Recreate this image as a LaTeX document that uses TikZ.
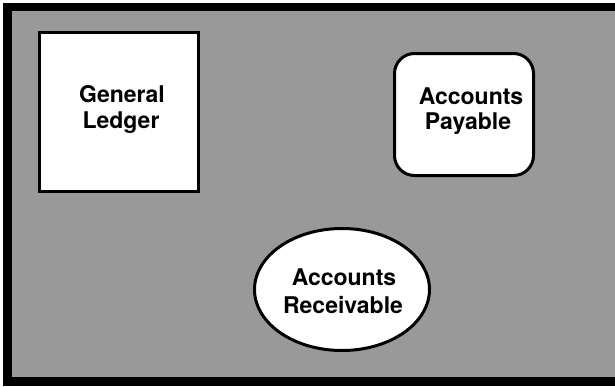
\documentclass[tikz,border=0pt]{standalone}
\usepackage{fontspec}
\setmainfont{TeX Gyre Heros}
\usetikzlibrary{shapes.geometric}
\definecolor{dither}{gray}{0.6}
\tikzset{
  shapebox/.style={draw=black, line width=3pt, fill=white, inner sep=0pt},
  lbl/.style={anchor=base, inner sep=0pt, font=\bfseries\fontsize{23}{26}\selectfont}
}
\begin{document}
\begin{tikzpicture}[x=1pt,y=-1pt]
\useasboundingbox (0,0) rectangle (615,386);
\fill[white] (0,0) rectangle (615,386);
\fill[dither] (12,11) rectangle (615,377);
\fill[black] (3,3) rectangle (615,11);
\fill[black] (3,3) rectangle (12,386);
\fill[black] (3,377) rectangle (615,386);
% General Ledger
\node[shapebox, rectangle, minimum width=159pt, minimum height=159pt] (gl) at (119,112) {};
\node[lbl] (gl1) at (122,102) {General};
\node[lbl] (gl2) at (121,128) {Ledger};
% Accounts Payable
\node[shapebox, rectangle, rounded corners=20pt, minimum width=139pt, minimum height=122pt] (ap) at (464,114.5) {};
\node[lbl] (ap1) at (471,104) {Accounts};
\node[lbl] (ap2) at (468,129) {Payable};
% Accounts Receivable
\node[shapebox, ellipse, minimum width=175pt, minimum height=122pt] (ar) at (342,289.5) {};
\node[lbl] (ar1) at (344,285) {Accounts};
\node[lbl] (ar2) at (343,313) {Receivable};
\end{tikzpicture}
\end{document}
